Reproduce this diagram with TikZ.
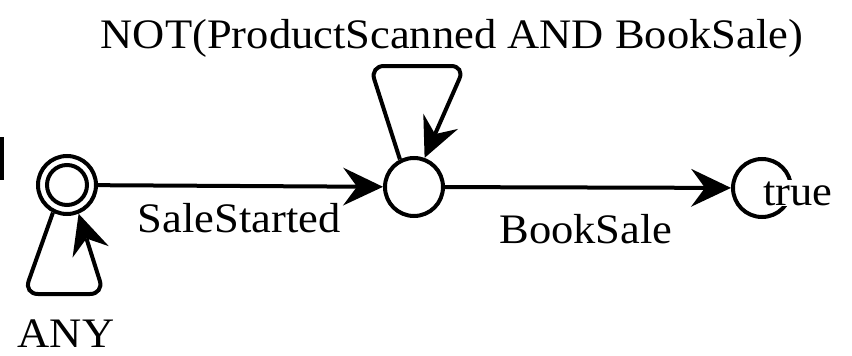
\documentclass[tikz,border=0pt]{standalone}
\usepackage{fontspec}
\usepackage{graphicx}
\setmainfont{Liberation Serif}
\usetikzlibrary{arrows.meta}

% labels are set slightly wide
\newcommand\lbl[1]{\scalebox{1.06}[1]{#1}}

\tikzset{
  state/.style={circle, draw, line width=4pt, minimum size=58pt, inner sep=0pt},
  arr/.style={line width=4pt, -{Stealth[length=40pt, width=38pt, inset=14pt, line width=0pt]}},
  selfloop/.style={arr, rounded corners=14pt},
  txt/.style={font=\fontsize{42}{50}\selectfont, inner sep=0pt},
}

\begin{document}
\begin{tikzpicture}[x=1pt, y=-1pt]
  \useasboundingbox (0,0) rectangle (852,356);

  % stub at the left border
  \coordinate (b1) at (2,137);
  \coordinate (b2) at (2,180);
  \draw[line width=4pt] (b1) -- (b2);

  % states
  \node[state] (L) at (67,185) {};
  \node[circle, draw, line width=4pt, minimum size=40pt, inner sep=0pt] (Li) at (67,185) {};
  \node[state] (M) at (414,187) {};
  \node[state] (R) at (762,188) {};

  % transitions
  \draw[arr] (L) -- (M);
  \draw[arr] (M) -- (R);

  % self loops
  \coordinate (la) at (24,294);
  \coordinate (lb) at (104,294);
  \draw[selfloop] (L.243) -- (la) -- (lb) -- (L.292);

  \coordinate (ma) at (370,66);
  \coordinate (mb) at (465,66);
  \draw[selfloop] (M.117) -- (ma) -- (mb) -- (M.70);

  % labels
  \node[txt, anchor=base] (tnot) at (452,48) {\lbl{NOT(ProductScanned AND BookSale)}};
  \node[txt, anchor=base] (tss) at (239,232) {\lbl{SaleStarted}};
  \node[txt, anchor=base] (tbs) at (586,243) {\lbl{BookSale}};
  \node[txt, anchor=base] (tany) at (66,347) {\lbl{ANY}};
  \node[txt, anchor=base west, fill=white, inner sep=1pt] (ttrue) at (762,205) {\lbl{true}};
\end{tikzpicture}
\end{document}
